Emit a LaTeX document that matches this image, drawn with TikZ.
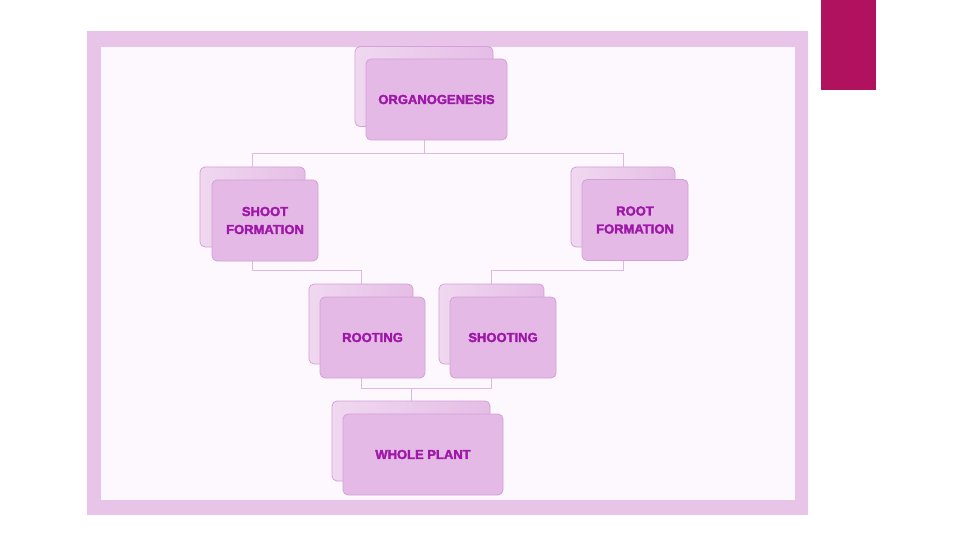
\documentclass[tikz,border=0pt]{standalone}
\usepackage{fontspec}
\newfontfamily\boxfont{Liberation Sans}[UprightFont=* Bold, UprightFeatures={FakeBold=2.5}]
\definecolor{framecol}{HTML}{E8C4E8}
\definecolor{innercol}{HTML}{FDF8FD}
\definecolor{magcol}{HTML}{B0125F}
\definecolor{backfill}{HTML}{E5BDE6}
\definecolor{backhi}{HTML}{F0D8F0}
\definecolor{frontfill}{HTML}{E4B9E5}
\definecolor{boxline}{HTML}{D3A0D7}
\definecolor{txtcol}{HTML}{9E18A8}
\definecolor{conn}{HTML}{DDB8DF}
\pgfdeclarelayer{bg}
\pgfdeclarelayer{lines}
\pgfsetlayers{bg,lines,main}
\tikzset{
  backbox/.style={draw=boxline, line width=0.8pt, rounded corners=5pt,
    left color=backhi, right color=backfill, minimum height=80pt, inner sep=0pt},
  frontbox/.style={draw=boxline, line width=0.8pt, rounded corners=5pt,
    fill=frontfill, minimum height=81pt, inner sep=0pt, align=center,
    text=txtcol, font=\boxfont\fontsize{13}{18}\selectfont},
  connline/.style={draw=conn, line width=1pt}
}
\begin{document}
\begin{tikzpicture}[x=1pt,y=-1pt]
\useasboundingbox (0,0) rectangle (960,540);
\begin{pgfonlayer}{bg}
\fill[white] (0,0) rectangle (960,540);
\fill[framecol] (87,31) rectangle (808,515);
\fill[innercol] (101,47) rectangle (795,500);
\fill[magcol] (821,0) rectangle (876,90);
\end{pgfonlayer}

% back boxes
\node[backbox, minimum width=138pt] (orgb) at (424,86.5) {};
\node[backbox, minimum width=105pt] (sfb) at (252.5,207) {};
\node[backbox, minimum width=104pt] (rfb) at (623,207) {};
\node[backbox, minimum width=104pt] (rtb) at (361,324) {};
\node[backbox, minimum width=105pt] (shb) at (491.5,324) {};
\node[backbox, minimum width=158pt] (whb) at (411,441) {};

% front boxes
\node[frontbox, minimum width=141pt] (org) at (436.5,99.5) {ORGANOGENESIS};
\node[frontbox, minimum width=106pt] (sf) at (265,220.5) {SHOOT\\FORMATION};
\node[frontbox, minimum width=106pt] (rf) at (635,220) {ROOT\\FORMATION};
\node[frontbox, minimum width=105pt] (rt) at (372.5,337.5) {ROOTING};
\node[frontbox, minimum width=106pt] (sh) at (503,337.5) {SHOOTING};
\node[frontbox, minimum width=160pt] (wh) at (423,454.5) {WHOLE PLANT};

\coordinate (y1) at (0,154);
\coordinate (y2) at (0,270);
\coordinate (y3) at (0,388);

\begin{pgfonlayer}{lines}
\draw[connline] (orgb.south) -- (orgb.south |- y1);
\draw[connline] (sfb.north) -- (sfb.north |- y1) -- (rfb.north |- y1) -- (rfb.north);
\draw[connline] (sfb.south) -- (sfb.south |- y2) -- (rtb.north |- y2) -- (rtb.north);
\draw[connline] (rfb.south) -- (rfb.south |- y2) -- (shb.north |- y2) -- (shb.north);
\draw[connline] (rtb.south) -- (rtb.south |- y3) -- (shb.south |- y3) -- (shb.south);
\draw[connline] (whb.north) -- (whb.north |- y3);
\end{pgfonlayer}
\end{tikzpicture}
\end{document}
